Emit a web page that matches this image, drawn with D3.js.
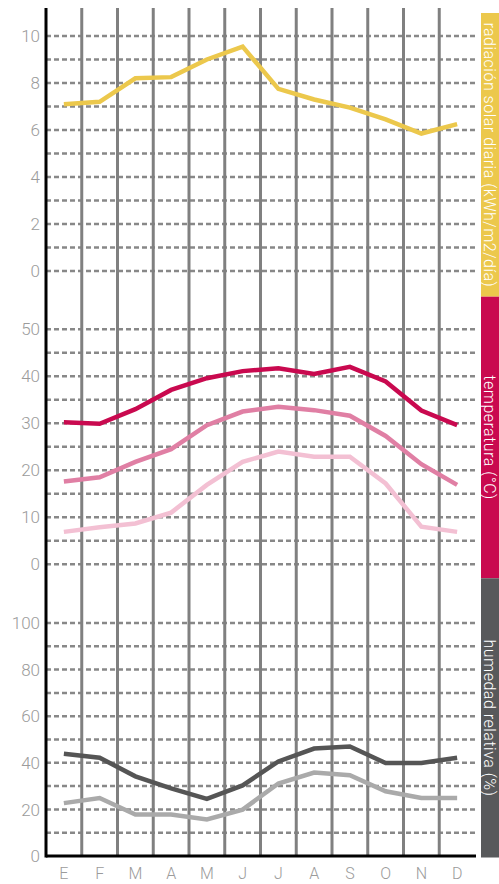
<!DOCTYPE html>
<html>
<head>
<meta charset="utf-8">
<script src="https://cdn.jsdelivr.net/npm/d3@7"></script>
<style>
  html, body { margin: 0; padding: 0; background: #fff; }
  svg { display: block; font-family: "Roboto", "Liberation Sans", sans-serif; }
</style>
</head>
<body>
<svg id="chart" width="499" height="884"></svg>
<script>
// Monthly climate data
const months = ["E", "F", "M", "A", "M", "J", "J", "A", "S", "O", "N", "D"];
const radiation = [7.1, 7.2, 8.2, 8.25, 9.0, 9.55, 7.75, 7.3, 6.95, 6.45, 5.85, 6.25];
const tempMax = [30.2, 29.9, 33.0, 37.1, 39.6, 41.1, 41.7, 40.5, 42.0, 38.9, 32.7, 29.6];
const tempMean = [17.6, 18.5, 21.8, 24.5, 29.6, 32.5, 33.5, 32.8, 31.6, 27.3, 21.3, 16.9];
const tempMin = [6.9, 7.9, 8.7, 11.0, 16.9, 21.8, 24.0, 22.9, 22.9, 17.2, 8.0, 6.9];
const humidityHigh = [43.9, 42.2, 34.2, 29.0, 24.5, 30.3, 40.6, 46.1, 47.0, 39.9, 39.9, 42.2];
const humidityLow = [22.7, 24.9, 17.8, 17.8, 15.7, 19.9, 31.1, 35.8, 34.7, 27.8, 24.9, 24.9];
const radTicks = [0, 2, 4, 6, 8, 10];
const tempTicks = [0, 10, 20, 30, 40, 50];
const humTicks = [0, 20, 40, 60, 80, 100];

const svg = d3.select("#chart");
const plotLeft = 46, plotRight = 475, plotTop = 8, plotBottom = 856;

const x = d3.scaleBand().domain(d3.range(12)).range([plotLeft, plotRight]).paddingInner(0).paddingOuter(0);
const cx = i => x(i) + x.bandwidth() / 2;

// One vertical scale per panel
const yRad = d3.scaleLinear().domain([0, 10]).range([271, 36]);
const yTemp = d3.scaleLinear().domain([0, 50]).range([564.3, 329.3]);
const yHum = d3.scaleLinear().domain([0, 100]).range([plotBottom, 623]);

const gridColor = "#888";
const tickColor = "#9b9b9b";

// Dashed horizontal gridlines
function hgrid(scale, values) {
  svg.append("g").selectAll("line").data(values).join("line")
    .attr("x1", plotLeft).attr("x2", plotRight)
    .attr("y1", d => scale(d)).attr("y2", d => scale(d))
    .attr("stroke", gridColor).attr("stroke-width", 2.5)
    .attr("stroke-dasharray", "5,3");
}
hgrid(yRad, d3.range(0, 11, 1));
hgrid(yTemp, d3.range(0, 51, 5));
hgrid(yHum, d3.range(10, 101, 10));

// Vertical month separators
svg.append("g").selectAll("line").data(d3.range(1, 12)).join("line")
  .attr("x1", d => x(d)).attr("x2", d => x(d))
  .attr("y1", plotTop).attr("y2", plotBottom)
  .attr("stroke", "#808080").attr("stroke-width", 3);

// Axis lines
svg.append("line").attr("x1", plotLeft).attr("x2", plotLeft).attr("y1", plotTop).attr("y2", plotBottom + 1.5)
  .attr("stroke", "#000").attr("stroke-width", 3);
svg.append("line").attr("x1", plotLeft).attr("x2", plotRight + 1).attr("y1", plotBottom).attr("y2", plotBottom)
  .attr("stroke", "#000").attr("stroke-width", 3);

// Left tick labels
function ticks(scale, values) {
  svg.append("g").selectAll("text").data(values).join("text")
    .attr("x", 40).attr("y", d => scale(d))
    .attr("dy", "0.36em")
    .attr("text-anchor", "end")
    .attr("fill", tickColor)
    .attr("font-size", 17).attr("font-weight", 300)
    .text(d => d);
}
ticks(yRad, radTicks);
ticks(yTemp, tempTicks);
ticks(yHum, humTicks);

// Month labels
svg.append("g").selectAll("text").data(months).join("text")
  .attr("x", (d, i) => cx(i)).attr("y", 873)
  .attr("dy", "0.36em")
  .attr("text-anchor", "middle")
  .attr("fill", tickColor)
  .attr("font-size", 16).attr("font-weight", 300)
  .text(d => d);

// Series lines
function series(values, scale, color, width) {
  const line = d3.line().x((d, i) => cx(i)).y(d => scale(d));
  svg.append("path").datum(values)
    .attr("d", line)
    .attr("fill", "none")
    .attr("stroke", color)
    .attr("stroke-width", width)
    .attr("stroke-linejoin", "miter");
}
series(radiation, yRad, "#ecc84c", 4.5);
series(tempMin, yTemp, "#f3c0d3", 4.5);
series(tempMean, yTemp, "#e07fa4", 4.5);
series(tempMax, yTemp, "#c9094f", 4.5);
series(humidityLow, yHum, "#aaaaaa", 4.5);
series(humidityHigh, yHum, "#555555", 4.5);

// Side captions for each panel
const captions = [
  { text: "radiación solar diaria (kWh/m2/día)", y0: 13, y1: 296.7, color: "#ecc84c" },
  { text: "temperatura (°C)", y0: 296.7, y1: 578.3, color: "#c9094f" },
  { text: "humedad relativa (%)", y0: 578.3, y1: 857.5, color: "#58595b" }
];
const capX = 481;
const cap = svg.append("g").selectAll("g").data(captions).join("g");
cap.append("rect")
  .attr("x", capX).attr("width", 499 - capX)
  .attr("y", d => d.y0).attr("height", d => d.y1 - d.y0)
  .attr("fill", d => d.color);
cap.append("text")
  .attr("transform", d => `translate(${capX + 2.5},${(d.y0 + d.y1) / 2}) rotate(90)`)
  .attr("text-anchor", "middle")
  .attr("fill", "#fff")
  .attr("font-size", 16).attr("font-weight", 300)
  .attr("letter-spacing", 0.5)
  .text(d => d.text);
</script>
</body>
</html>
